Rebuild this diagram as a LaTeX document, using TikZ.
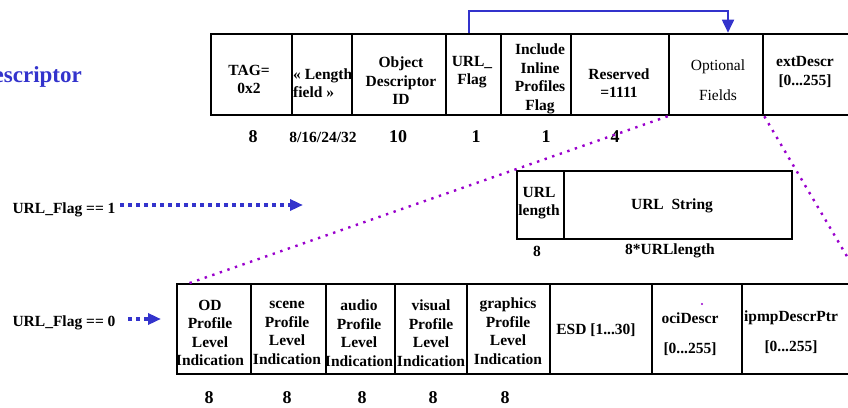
\documentclass[tikz,border=0pt]{standalone}
\usepackage{fontspec}
\setmainfont{Liberation Serif}
\usepackage{tikz}
\usetikzlibrary{shapes,arrows.meta}
\definecolor{flagblue}{rgb}{0.2, 0.2, 0.8}
\definecolor{linkpurple}{rgb}{0.6, 0, 0.8}
\tikzstyle{field}=[draw,rectangle,line width=1.6pt,inner sep=0pt]
\tikzstyle{txt}=[inner sep=0pt,align=center,font=\fontsize{15.5}{18.5}\selectfont\bfseries]
\tikzstyle{bits}=[inner sep=0pt,font=\fontsize{18}{20}\selectfont\bfseries]
\tikzstyle{zoomline}=[linkpurple,line width=2.4pt,dash pattern=on 2.4pt off 5.6pt]
\tikzstyle{flagarrow}=[flagblue,line width=4pt,dash pattern=on 4pt off 4pt,-{Triangle[length=13pt,width=11pt]}]

\begin{document}
\begin{tikzpicture}[x=1pt,y=-1pt]
\useasboundingbox (0,0) rectangle (848,407);
\node[anchor=base east,inner sep=0pt,text=flagblue,font=\fontsize{23}{25}\selectfont\bfseries] (title) at (82,82) {Descriptor};
% top row
\node[field,minimum width=81pt,minimum height=81pt] (tag) at (251.5,74.5) {};
\node[field,minimum width=60pt,minimum height=81pt] (len) at (322,74.5) {};
\node[field,minimum width=94pt,minimum height=81pt] (odid) at (399,74.5) {};
\node[field,minimum width=55pt,minimum height=81pt] (urlf) at (473.5,74.5) {};
\node[field,minimum width=70pt,minimum height=81pt] (incl) at (536,74.5) {};
\node[field,minimum width=98pt,minimum height=81pt] (resv) at (620,74.5) {};
\node[field,minimum width=99pt,minimum height=81pt] (ext) at (812.5,74.5) {};
\node[field,line width=2.6pt,minimum width=94pt,minimum height=81pt] (opt) at (716,74.5) {};
\node[txt] (tagtxt) at (249,79.5) {TAG=\\0x2};
\node[txt,align=left,anchor=west] (lentxt) at (293,83) {« Length\\field »};
\node[txt] (odidtxt) at (401,81) {Object\\Descriptor\\ID};
\node[txt] (urlftxt) at (472,72) {URL\_\\Flag};
\node[txt] (incltxt) at (540,79) {Include\\Inline\\Profiles\\Flag};
\node[txt] (resvtxt) at (619,83) {Reserved\\=1111};
\node[txt,font=\fontsize{15.5}{18.5}\selectfont] (opttxt) at (718,80) {Optional\\[11pt]Fields};
\node[txt] (exttxt) at (805,72) {extDescr\\{[0...255]}};
\node[bits] (b1) at (253,137) {8};
\node[txt] (b2) at (323,137) {8/16/24/32};
\node[bits] (b3) at (398,137) {10};
\node[bits] (b4) at (476,137) {1};
\node[bits] (b5) at (546,137) {1};
\node[bits] (b6) at (615,137) {4};
\draw[flagblue,line width=1.8pt,-{Triangle[length=13pt,width=12pt]}] ([xshift=-4.5pt]urlf.north) -- ++(0,-22) -| ([xshift=12pt]opt.north);
% URL_Flag == 1
\node[field,minimum width=47pt,minimum height=68pt] (urllen) at (540.5,205) {};
\node[field,minimum width=228pt,minimum height=68pt] (urlstr) at (678,205) {};
\node[txt] (urllentxt) at (539,203) {URL\\length};
\node[txt] (urlstrtxt) at (672,206) {URL\ \ String};
\node[txt] (u1) at (537,251) {8};
\node[txt] (u2) at (670,251) {8*URLlength};
\node[txt] (flag1) at (64,210) {URL\_Flag == 1};
\coordinate (flag1end) at (303,205);
\draw[flagarrow] (120,205) -- (flag1end);
% URL_Flag == 0
\node[field,minimum width=74pt,minimum height=90pt] (od) at (214,329) {};
\node[field,minimum width=75pt,minimum height=90pt] (scn) at (288.5,329) {};
\node[field,minimum width=69pt,minimum height=90pt] (aud) at (360.5,329) {};
\node[field,minimum width=72pt,minimum height=90pt] (vis) at (431,329) {};
\node[field,minimum width=83pt,minimum height=90pt] (gfx) at (508.5,329) {};
\node[field,minimum width=102pt,minimum height=90pt] (esd) at (601,329) {};
\node[field,minimum width=90pt,minimum height=90pt] (oci) at (697,329) {};
\node[field,minimum width=120pt,minimum height=90pt] (ipmp) at (802,329) {};
\node[txt] (odtxt) at (210,333) {OD\\Profile\\Level\\Indication};
\node[txt] (scntxt) at (287,333) {scene\\Profile\\Level\\Indication};
\node[txt] (audtxt) at (359,333) {audio\\Profile\\Level\\Indication};
\node[txt] (vistxt) at (431,333) {visual\\Profile\\Level\\Indication};
\node[txt] (gfxtxt) at (508,331) {graphics\\Profile\\Level\\Indication};
\node[txt] (esdtxt) at (596,330) {ESD [1...30]};
\node[txt] (ocitxt) at (690,334) {ociDescr\\[11pt][0...255]};
\node[txt] (ipmptxt) at (791,332) {ipmpDescrPtr\\[11pt][0...255]};
\node[bits] (c1) at (209,398) {8};
\node[bits] (c2) at (287,398) {8};
\node[bits] (c3) at (362,398) {8};
\node[bits] (c4) at (433,398) {8};
\node[bits] (c5) at (505,398) {8};
\fill[linkpurple] (702,304) circle (1.2pt);
\node[txt] (flag0) at (64,323) {URL\_Flag == 0};
\coordinate (flag0end) at (161,319);
\draw[flagarrow] (128,319) -- (flag0end);
\draw[zoomline] (opt.south west) -- ([xshift=13pt]od.north west);
\draw[zoomline] (opt.south east) -- (ipmp.north east);
\end{tikzpicture}
\end{document}
